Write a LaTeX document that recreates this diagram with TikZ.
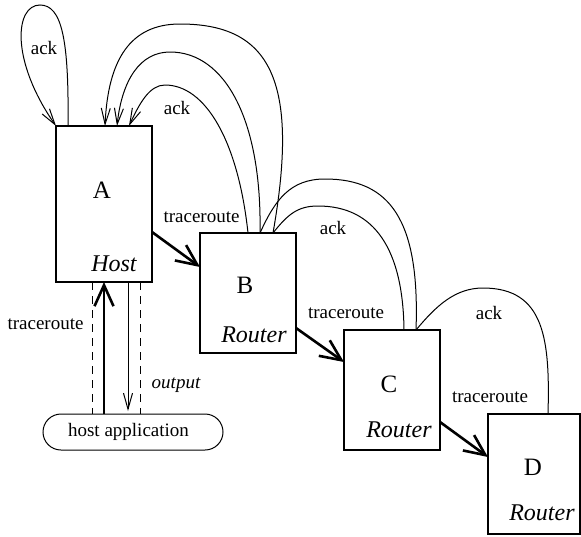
\documentclass[tikz,border=0pt]{standalone}
\usepackage{fontspec}
\setmainfont{Liberation Serif}
\usetikzlibrary{arrows.meta, calc}

\begin{document}
\begin{tikzpicture}[x=0.5pt, y=-0.5pt,
		box/.style={draw, line width=1.3pt, outer sep=0pt, inner sep=0pt, minimum width=48pt, minimum height=60pt, anchor=north west},
		trace/.style={line width=1.3pt, -{Straight Barb[length=10.5pt, width=9.5pt]}},
		ack/.style={line width=0.5pt, -{Straight Barb[length=8pt, width=4.5pt]}},
		hop/.style={line width=0.5pt},
		guide/.style={line width=0.5pt, dash pattern=on 4pt off 3pt},
		lbl/.style={font=\fontsize{9.5}{11}\selectfont, inner sep=0pt},
		letter/.style={font=\fontsize{12.5}{15}\selectfont, inner sep=0pt},
		kind/.style={font=\fontsize{12}{14}\selectfont\itshape, inner sep=0pt, anchor=east}]
				\useasboundingbox (0,0) rectangle (581,536);

				\node[box, minimum height=78pt] (A) at (56,126) {};
				\node[box] (B) at (200,233) {};
				\node[box] (C) at (344,330) {};
				\node[box, minimum width=46pt] (D) at (488,414) {};

				\node[letter] (Aname) at ($(A.north)+(-2,64)$) {A};
				\node[letter] (Bname) at ($(B.north)+(-3,52)$) {B};
				\node[letter] (Cname) at ($(C.north)+(-3,54)$) {C};
				\node[letter] (Dname) at ($(D.north)+(-1,53)$) {D};

				\node[kind] (Akind) at ($(A.south east)+(-15,-18.5)$) {Host};
				\node[kind] (Bkind) at ($(B.south east)+(-9,-18)$) {Router};
				\node[kind] (Ckind) at ($(C.south east)+(-8,-20)$) {Router};
				\node[kind] (Dkind) at ($(D.south east)+(-5,-21)$) {Router};

				\node[draw, line width=0.5pt, rounded corners=9pt, outer sep=0pt, minimum width=90pt, minimum height=18pt] (happ) at (133,432) {};
				\node[lbl] (happtxt) at (128.5,432) {host application};

				% traceroute hops
				\draw[trace] ($(A.north east)+(0,106)$) -- ($(B.north west)+(0,34)$);
				\draw[trace] ($(B.north east)+(0,95)$) -- ($(C.north west)+(0,32)$);
				\draw[trace] ($(C.north east)+(0,92)$) -- ($(D.north west)+(0,43)$);
				\node[lbl] (tAB) at (201.5,217) {traceroute};
				\node[lbl] (tBC) at (346,313) {traceroute};
				\node[lbl] (tCD) at (490,397) {traceroute};

				% ack paths back to the host
				\coordinate (a0) at ($(A.north west)+(12,0)$);
				\coordinate (a1) at ($(A.north west)+(49,0)$);
				\coordinate (a2) at ($(A.north west)+(61,0)$);
				\coordinate (a3) at ($(A.north west)+(73,0)$);
				\coordinate (b1) at ($(B.north west)+(48,0)$);
				\coordinate (b2) at ($(B.north west)+(60,0)$);
				\coordinate (b3) at ($(B.north west)+(73,0)$);
				\coordinate (c1) at ($(C.north west)+(60,0)$);
				\coordinate (c2) at ($(C.north west)+(72,0)$);
				\coordinate (d1) at ($(D.north west)+(60,0)$);

				\draw[ack] (a0) .. controls (69,40) and (62,5) .. (40,5) .. controls (15,5) and (10,60) .. (A.north west);
				\draw[ack] (b3) .. controls (300,80) and (270,24) .. (180,24) .. controls (130,24) and (108,60) .. (a1);
				\draw[ack] (b2) .. controls (262,120) and (225,52) .. (170,52) .. controls (140,52) and (122,80) .. (a2);
				\draw[ack] (b1) .. controls (238,140) and (205,85) .. (165,85) .. controls (150,85) and (140,102) .. (a3);
				\draw[hop] (b2) .. controls (275,200) and (290,179) .. (325,179) .. controls (390,179) and (420,220) .. (c2);
				\draw[hop] (b3) .. controls (288,214) and (298,206) .. (318,206) .. controls (375,206) and (403,250) .. (c1);
				\draw[hop] (c2) .. controls (436,306) and (455,288) .. (483,288) .. controls (545,288) and (550,340) .. (d1);
				\node[lbl] (ackA) at (44,48) {ack};
				\node[lbl] (ackB) at (177,108) {ack};
				\node[lbl] (ackC) at (333,228) {ack};
				\node[lbl] (ackD) at (489,313) {ack};

				% host application link
				\coordinate (up) at ($(A.south west)+(48,0)$);
				\coordinate (out) at ($(A.south west)+(72,0)$);
				\coordinate (dl) at ($(A.south west)+(36,0)$);
				\coordinate (dr) at ($(A.south west)+(84,0)$);
				\draw[trace] (up |- happ.north) -- (up);
				\draw[ack] (out) -- ($(out |- happ.north)+(0,-3)$);
				\draw[guide] (dl) -- (dl |- happ.north);
				\draw[guide] (dr) -- (dr |- happ.north);
				\node[lbl] (tApp) at (45.5,324) {traceroute};
				\node[lbl, font=\fontsize{9.5}{11}\selectfont\itshape] (outApp) at (176,385) {output};

			\end{tikzpicture}
\end{document}
